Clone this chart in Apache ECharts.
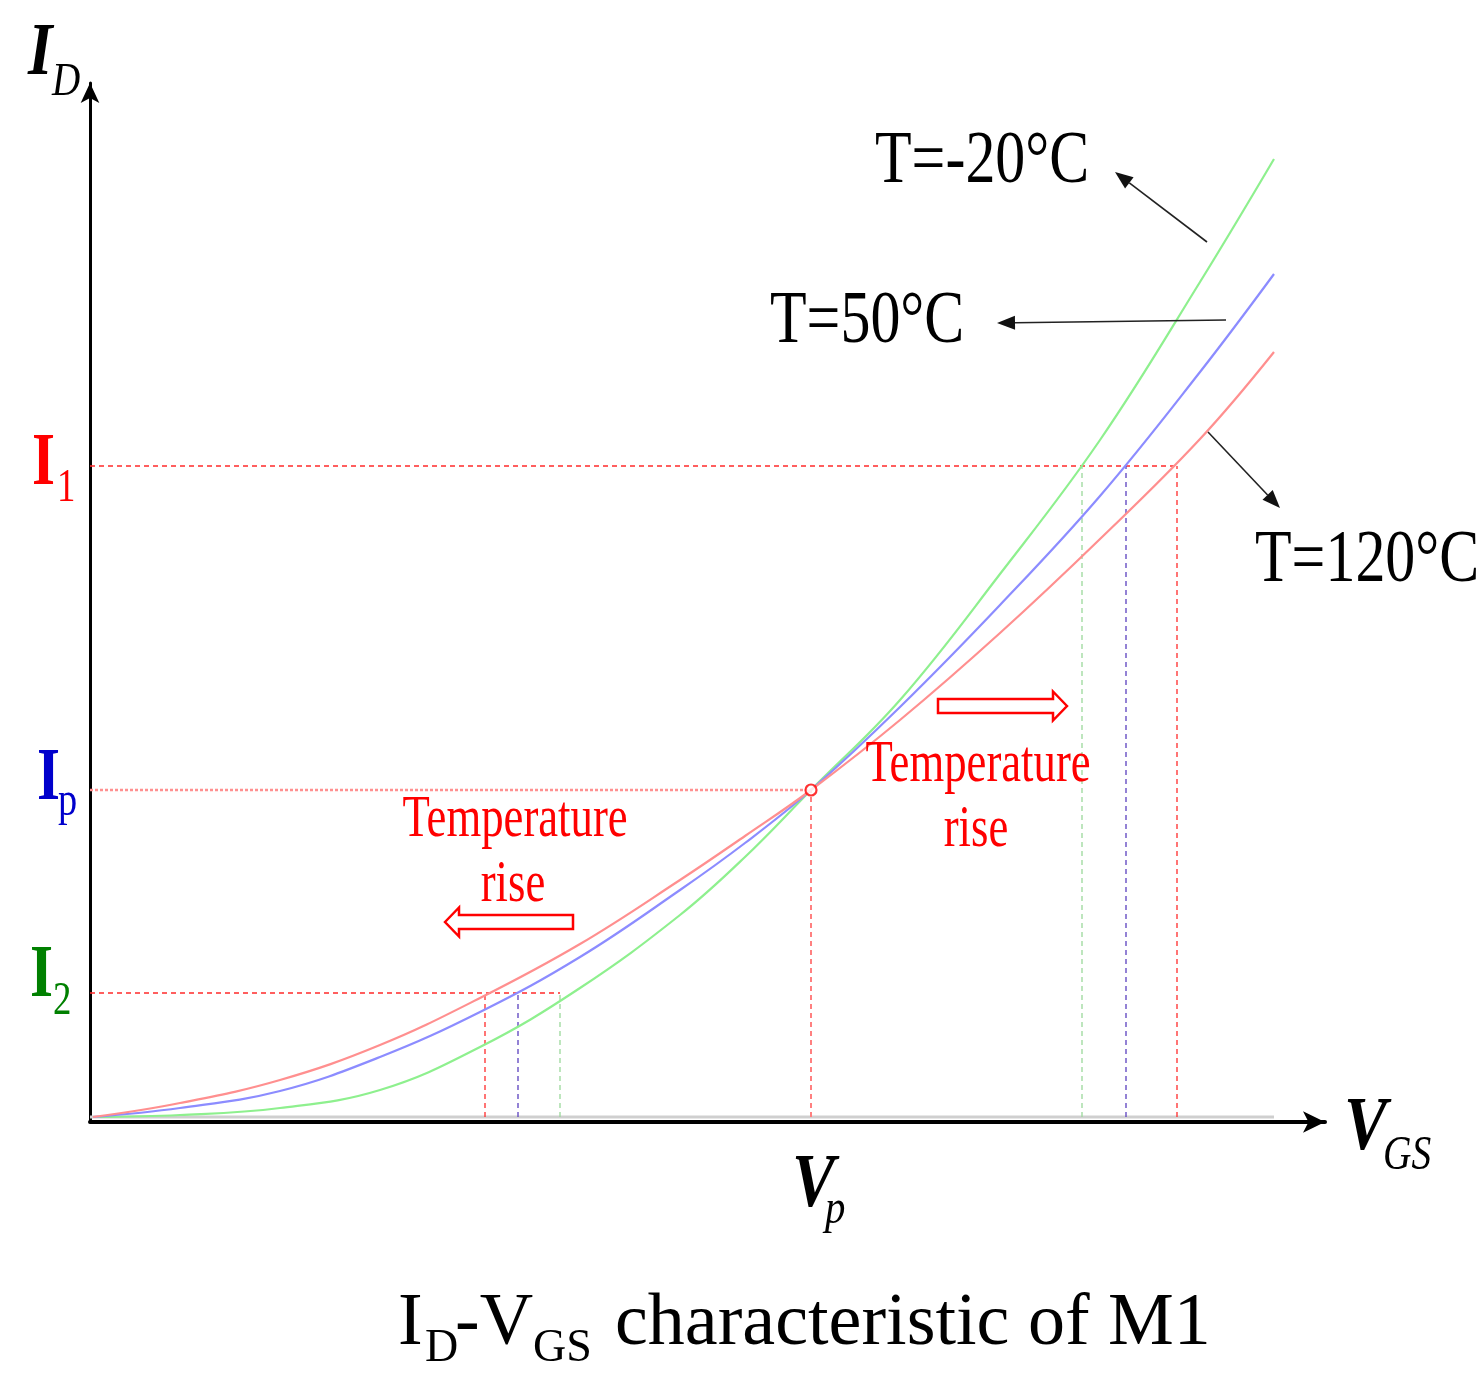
<!DOCTYPE html>
<html>
<head>
<meta charset="utf-8">
<script src="https://cdn.jsdelivr.net/npm/echarts@6/dist/echarts.min.js"></script>
<style>
html, body { margin: 0; padding: 0; background: #fff; }
#chart { width: 1482px; height: 1373px; }
</style>
</head>
<body>
<div id="chart"></div>
<script>
// V_GS sample points (arbitrary units) and I_D for each temperature
var vgs      = [0.03, 0.9, 1.9, 2.9, 3.9, 4.9, 5.9, 6.55, 7.21, 8.1, 9.1, 10.1, 11.1, 11.84];
var idCold   = [0, 0.02, 0.09, 0.27, 0.70, 1.29, 2.02, 2.60, 3.27, 4.17, 5.43, 6.77, 8.35, 9.58]; // T=-20°C
var idMid    = [0, 0.09, 0.26, 0.60, 1.05, 1.60, 2.27, 2.74, 3.27, 4.10, 5.12, 6.21, 7.45, 8.43]; // T=50°C
var idHot    = [0, 0.14, 0.37, 0.72, 1.19, 1.73, 2.37, 2.81, 3.27, 3.97, 4.84, 5.78, 6.78, 7.65]; // T=120°C

// reference levels
var levelI1 = 6.51, levelIp = 3.27, levelI2 = 1.24, vp = 7.21;
// V_GS where each curve reaches I1 / I2  (cold, mid, hot)
var vAtI1 = [9.92, 10.36, 10.87];
var vAtI2 = [4.70, 4.28, 3.95];
var baseEnd = 11.84;

var colCold = '#8ef08e', colMid = '#8c8cff', colHot = '#ff8f8f';
var dashRed = '#ff2a2a', dashPurple = '#5a3fbf', dashGreen = '#9ad89a';
var FONT = '"Liberation Serif", "Times New Roman", serif';

function pairs(xs, ys) {
  return xs.map(function (x, i) { return [x, ys[i]]; });
}

function seg(p1, p2, color, width, type) {
  return {
    type: 'line', data: [p1, p2], symbol: 'none', silent: true, z: 1,
    lineStyle: { color: color, width: width, type: type }
  };
}

function curve(ys, color) {
  return {
    type: 'line', data: pairs(vgs, ys), smooth: 0.4, symbol: 'none', silent: true, z: 3,
    lineStyle: { color: color, width: 2.2 }
  };
}

function txt(s, x, y, size, color, opt) {
  opt = opt || {};
  return {
    type: 'text', x: x, y: y, scaleX: opt.sx || 1, z: 10,
    style: {
      text: s, fill: color,
      font: (opt.italic ? 'italic ' : '') + (opt.bold ? 'bold ' : '') + size + 'px ' + FONT,
      align: opt.align || 'left', verticalAlign: 'middle'
    }
  };
}

function arrow(x1, y1, x2, y2) {
  var a = Math.atan2(y2 - y1, x2 - x1), L = 18, W = 7;
  var bx = x2 - L * Math.cos(a), by = y2 - L * Math.sin(a);
  var nx = -Math.sin(a) * W, ny = Math.cos(a) * W;
  return [
    { type: 'line', z: 10, shape: { x1: x1, y1: y1, x2: bx, y2: by }, style: { stroke: '#222', lineWidth: 1.6 } },
    { type: 'polygon', z: 10, shape: { points: [[x2, y2], [bx + nx, by + ny], [bx - nx, by - ny]] }, style: { fill: '#111' } }
  ];
}

function hollowArrow(x0, x1, yc, dir) {
  // dir = -1 : pointing left (tip at x0), 1 : pointing right (tip at x1)
  var h = 7, H = 14.5, head = 14, pts;
  if (dir < 0) {
    pts = [[x0, yc], [x0 + head, yc - H], [x0 + head, yc - h], [x1, yc - h], [x1, yc + h], [x0 + head, yc + h], [x0 + head, yc + H]];
  } else {
    pts = [[x1, yc], [x1 - head, yc - H], [x1 - head, yc - h], [x0, yc - h], [x0, yc + h], [x1 - head, yc + h], [x1 - head, yc + H]];
  }
  return { type: 'polygon', z: 10, shape: { points: pts }, style: { fill: '#fff', stroke: '#ff0000', lineWidth: 2.5 } };
}

var series = [
  seg([0, 0], [baseEnd, 0], '#cfcfcf', 3, 'solid'),
  // I1 level
  seg([0, levelI1], [vAtI1[2], levelI1], dashRed, 1.3, [5, 4]),
  seg([vAtI1[0], 0], [vAtI1[0], levelI1], dashGreen, 1.3, [5, 4]),
  seg([vAtI1[1], 0], [vAtI1[1], levelI1], dashPurple, 1.3, [5, 4]),
  seg([vAtI1[2], 0], [vAtI1[2], levelI1], dashRed, 1.3, [5, 4]),
  // I2 level
  seg([0, levelI2], [vAtI2[0], levelI2], dashRed, 1.3, [5, 4]),
  seg([vAtI2[0], 0], [vAtI2[0], levelI2], dashGreen, 1.3, [5, 4]),
  seg([vAtI2[1], 0], [vAtI2[1], levelI2], dashPurple, 1.3, [5, 4]),
  seg([vAtI2[2], 0], [vAtI2[2], levelI2], dashRed, 1.3, [5, 4]),
  // Ip / Vp
  seg([0, levelIp], [vp, levelIp], '#ff9090', 2.5, [3, 2]),
  seg([vp, 0], [vp, levelIp], '#ff8080', 2, [5, 4]),
  curve(idCold, colCold),
  curve(idMid, colMid),
  curve(idHot, colHot),
  {
    type: 'scatter', data: [[vp, levelIp]], symbol: 'circle', symbolSize: 11, silent: true, z: 5,
    itemStyle: { color: '#fff', borderColor: '#ff0000', borderWidth: 2.2 }
  }
];

var graphics = [
  txt('I', 28, 55, 74, '#000', { bold: true, italic: true, sx: 0.85 }),
  txt('D', 52, 83, 46, '#000', { italic: true, sx: 0.85 }),
  txt('V', 1344, 1129, 76, '#000', { bold: true, italic: true, sx: 0.85 }),
  txt('GS', 1383, 1156, 48, '#000', { italic: true, sx: 0.82 }),
  txt('V', 792, 1186, 76, '#000', { bold: true, italic: true, sx: 0.85 }),
  txt('p', 825, 1210, 48, '#000', { italic: true, sx: 0.85 }),

  txt('I', 32, 465, 74, '#ff0000', { bold: true, sx: 0.8 }),
  txt('1', 57, 489, 46, '#ff0000', { sx: 0.8 }),
  txt('I', 37, 780, 74, '#0000cc', { bold: true, sx: 0.8 }),
  txt('p', 58, 802, 48, '#0000cc', { sx: 0.8 }),
  txt('I', 30, 977, 74, '#008000', { bold: true, sx: 0.8 }),
  txt('2', 53, 1002, 46, '#008000', { sx: 0.8 }),

  txt('T=-20°C', 875, 163, 74, '#000', { sx: 0.81 }),
  txt('T=50°C', 770, 323, 74, '#000', { sx: 0.81 }),
  txt('T=120°C', 1255, 562, 74, '#000', { sx: 0.81 }),

  txt('Temperature', 515, 820, 60, '#ff0000', { align: 'center', sx: 0.745 }),
  txt('rise', 513, 885, 60, '#ff0000', { align: 'center', sx: 0.745 }),
  txt('Temperature', 978, 765, 60, '#ff0000', { align: 'center', sx: 0.745 }),
  txt('rise', 976, 830, 60, '#ff0000', { align: 'center', sx: 0.745 }),
  hollowArrow(445, 573, 922, -1),
  hollowArrow(938, 1067, 706, 1),

  txt('I', 398, 1325, 74, '#000'),
  txt('D', 425, 1349, 46, '#000'),
  txt('-V', 455, 1325, 74, '#000'),
  txt('GS', 533, 1349, 46, '#000'),
  txt('characteristic of M1', 615, 1325, 74, '#000')
].concat(arrow(1207, 242, 1115, 172), arrow(1226, 320, 997, 323), arrow(1208, 432, 1280, 508));

var chart = echarts.init(document.getElementById('chart'));
var option = {
  animation: false,
  backgroundColor: '#fff',
  grid: { left: 90, right: 157, top: 83, bottom: 251 },
  xAxis: {
    type: 'value', min: 0, max: 12.35,
    axisLine: { onZero: false, symbol: ['none', 'arrow'], symbolSize: [16, 22], lineStyle: { color: '#000', width: 4 } },
    axisTick: { show: false }, axisLabel: { show: false }, splitLine: { show: false }
  },
  yAxis: {
    type: 'value', min: -0.05, max: 10.34,
    axisLine: { show: true, onZero: false, symbol: ['none', 'arrow'], symbolSize: [14, 20], lineStyle: { color: '#000', width: 3 } },
    axisTick: { show: false }, axisLabel: { show: false }, splitLine: { show: false }
  },
  series: series,
  graphic: graphics
};
chart.setOption(option);
</script>
</body>
</html>
